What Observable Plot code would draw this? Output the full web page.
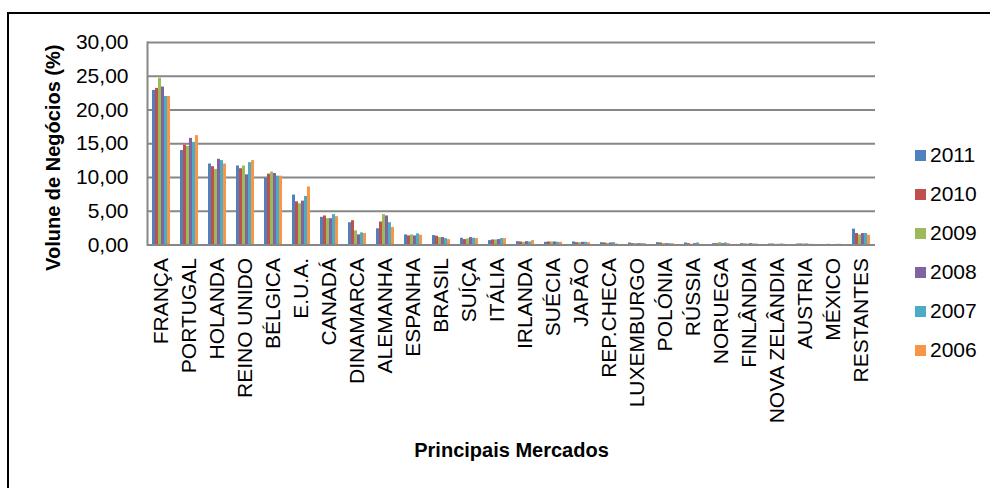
<!DOCTYPE html>
<html>
<head>
<meta charset="utf-8">
<script src="https://cdn.jsdelivr.net/npm/d3@7"></script>
<script src="https://cdn.jsdelivr.net/npm/@observablehq/plot@0.6"></script>
<style>
  html, body { margin: 0; padding: 0; background: #fff; }
  #chart { position: relative; width: 990px; height: 488px; overflow: hidden; font-family: "Liberation Sans", Arial, sans-serif; }
  #border { position: absolute; left: 7px; top: 12px; width: 1200px; height: 800px; border-top: 2px solid #000; border-left: 2px solid #000; box-sizing: border-box; }
  #legend { position: absolute; left: 915px; top: 135.5px; }
  #legend .row { height: 39px; display: flex; align-items: center; font-size: 21px; color: #000; }
  #legend .sw { width: 11px; height: 11px; margin-right: 4px; }
  svg { position: absolute; left: 0; top: 0; }
</style>
</head>
<body>
<div id="chart"><div id="border"></div></div>
<script>
// Markets (x categories)
const markets = ["FRANÇA", "PORTUGAL", "HOLANDA", "REINO UNIDO", "BÉLGICA", "E.U.A.", "CANADÁ",
  "DINAMARCA", "ALEMANHA", "ESPANHA", "BRASIL", "SUÍÇA", "ITÁLIA", "IRLANDA", "SUÉCIA", "JAPÃO",
  "REP.CHECA", "LUXEMBURGO", "POLÓNIA", "RÚSSIA", "NORUEGA", "FINLÂNDIA", "NOVA ZELÂNDIA",
  "AUSTRIA", "MÉXICO", "RESTANTES"];

const years = ["2011", "2010", "2009", "2008", "2007", "2006"];
const colors = ["#4F81BD", "#C0504D", "#9BBB59", "#8064A2", "#4BACC6", "#F79646"];

// Share of business volume (%) per market, one array per year
const v2011 = [22.9, 14.0, 12.0, 11.7, 9.9, 7.4, 4.1, 3.3, 2.4, 1.5, 1.4, 1.0, 0.65, 0.5, 0.4, 0.45, 0.35, 0.3, 0.35, 0.3, 0.2, 0.2, 0.15, 0.15, 0.05, 2.35];
const v2010 = [23.2, 14.8, 11.6, 11.3, 10.5, 6.4, 4.3, 3.6, 3.4, 1.35, 1.3, 0.8, 0.75, 0.45, 0.45, 0.35, 0.3, 0.2, 0.3, 0.2, 0.2, 0.15, 0.15, 0.15, 0.1, 1.7];
const v2009 = [24.7, 14.6, 11.2, 11.7, 10.8, 6.1, 3.9, 2.1, 4.5, 1.5, 1.1, 0.9, 0.75, 0.4, 0.45, 0.35, 0.25, 0.2, 0.2, 0.1, 0.35, 0.15, 0.1, 0.15, 0.05, 1.5];
const v2008 = [23.4, 15.8, 12.7, 10.4, 10.6, 6.5, 3.9, 1.5, 4.3, 1.35, 1.1, 1.1, 0.8, 0.5, 0.45, 0.4, 0.3, 0.2, 0.2, 0.2, 0.2, 0.2, 0.1, 0.15, 0.05, 1.7];
const v2007 = [22.0, 15.2, 12.5, 12.2, 10.2, 7.2, 4.5, 1.8, 3.3, 1.65, 0.95, 1.0, 0.95, 0.45, 0.4, 0.4, 0.35, 0.2, 0.2, 0.3, 0.3, 0.15, 0.15, 0.1, 0.1, 1.7];
const v2006 = [22.0, 16.2, 12.0, 12.5, 10.2, 8.6, 4.2, 1.7, 2.6, 1.45, 0.8, 0.95, 0.95, 0.65, 0.4, 0.35, 0.15, 0.2, 0.2, 0.1, 0.2, 0.15, 0.1, 0.1, 0.1, 1.45];

const yTicks = [0, 5, 10, 15, 20, 25, 30];
const yTitle = "Volune de Negócios (%)";
const xTitle = "Principais Mercados";

const series = [v2011, v2010, v2009, v2008, v2007, v2006];
const data = markets.flatMap((m, i) => years.map((y, j) => ({market: m, year: y, value: series[j][i]})));

const fmt = d => d.toFixed(2).replace(".", ",");
const gridColor = "#878787";

const plot = Plot.plot({
  width: 990,
  height: 488,
  marginLeft: 146,
  marginRight: 115,
  marginTop: 42,
  marginBottom: 243.5,
  style: {fontFamily: "'Liberation Sans', Arial, sans-serif", fontSize: "21px", color: "#000", background: "transparent"},
  fx: {domain: markets, padding: 0, label: null},
  x: {domain: years, paddingInner: 0, paddingOuter: 0.66, axis: null},
  y: {domain: [0, 30], label: null},
  color: {domain: years, range: colors},
  marks: [
    Plot.gridY(yTicks, {stroke: gridColor, strokeOpacity: 1, strokeWidth: 2}),
    Plot.barY(data, {fx: "market", x: "year", y: "value", fill: "year"}),
    Plot.ruleY([0], {stroke: gridColor, strokeWidth: 2}),
    Plot.frame({anchor: "left", facet: "super", stroke: gridColor, strokeWidth: 2}),
    Plot.axisY({ticks: yTicks, tickSize: 0, tickPadding: 19, tickFormat: fmt, label: null, fontSize: 21}),
    Plot.axisFx({anchor: "bottom", tickRotate: -90, tickSize: 0, tickPadding: 13, label: null, fontSize: 21}),
    Plot.text([yTitle], {facet: "super", frameAnchor: "left", textAnchor: "middle", lineAnchor: "middle", rotate: -90, dx: -94, dy: 14, fontWeight: "bold", fontSize: 20}),
    Plot.text([xTitle], {facet: "super", frameAnchor: "bottom", textAnchor: "middle", lineAnchor: "middle", dy: 205.5, fontWeight: "bold", fontSize: 20})
  ]
});

const chart = document.getElementById("chart");
chart.appendChild(plot);

// Legend on the right
const legend = document.createElement("div");
legend.id = "legend";
years.forEach((y, j) => {
  const row = document.createElement("div");
  row.className = "row";
  const sw = document.createElement("div");
  sw.className = "sw";
  sw.style.background = colors[j];
  const t = document.createElement("span");
  t.textContent = y;
  row.appendChild(sw);
  row.appendChild(t);
  legend.appendChild(row);
});
chart.appendChild(legend);
</script>
</body>
</html>
